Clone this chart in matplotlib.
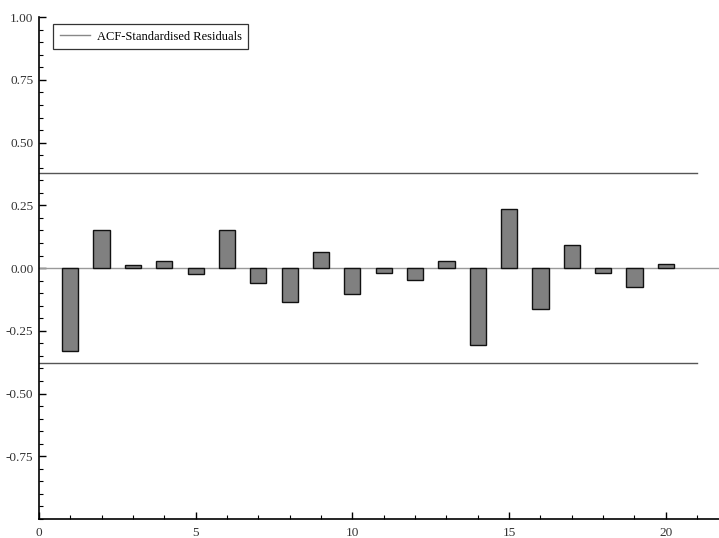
import numpy as np
import matplotlib
matplotlib.use('Agg')
import matplotlib.pyplot as plt
from matplotlib.ticker import MultipleLocator, FormatStrFormatter

# ACF of standardised residuals, lags 1..20
lags = list(range(1, 21))
acf = [-0.329, 0.151, 0.012, 0.030, -0.024, 0.151, -0.058, -0.134, 0.065, -0.105,
       -0.019, -0.046, 0.030, -0.307, 0.236, -0.163, 0.093, -0.019, -0.076, 0.017]
conf_band = 0.38
band_end = 21

plt.rcParams['font.family'] = ['Liberation Serif', 'DejaVu Serif']

fig = plt.figure(figsize=(7.19, 5.38), dpi=100)
ax = fig.add_axes([0.0542, 0.0353, 0.9458, 0.9327])

ax.bar(lags, acf, width=0.52, color='#808080', edgecolor='#111111', linewidth=1.0, zorder=3)
ax.axhline(0, color='#999999', linewidth=1.0, zorder=2)
ax.plot([0, band_end], [conf_band, conf_band], color='#555555', linewidth=1.0)
ax.plot([0, band_end], [-conf_band, -conf_band], color='#555555', linewidth=1.0)

# legend entry
ax.plot([], [], color='#888888', linewidth=1.0, label='ACF-Standardised Residuals')
leg = ax.legend(loc='upper left', bbox_to_anchor=(0.012, 0.998), fontsize=9,
                frameon=True, fancybox=False, edgecolor='black', handlelength=2.4,
                borderpad=0.5, handletextpad=0.6)
leg.get_frame().set_linewidth(0.9)

ax.set_xlim(0, 21.7)
ax.set_ylim(-1.0, 1.0)

for s in ['top', 'right']:
    ax.spines[s].set_visible(False)
for s in ['left', 'bottom']:
    ax.spines[s].set_linewidth(1.2)

ax.xaxis.set_major_locator(MultipleLocator(5))
ax.xaxis.set_minor_locator(MultipleLocator(1))
ax.yaxis.set_major_locator(MultipleLocator(0.25))
ax.yaxis.set_minor_locator(MultipleLocator(0.05))
ax.yaxis.set_major_formatter(FormatStrFormatter('%.2f'))
ax.set_yticks([-0.75, -0.5, -0.25, 0, 0.25, 0.5, 0.75, 1.0])

ax.tick_params(which='major', direction='in', length=5, width=1, labelsize=9.5,
               labelcolor='#333333')
ax.tick_params(axis='x', which='major', pad=6)
ax.tick_params(axis='y', which='major', pad=4)
ax.tick_params(which='minor', direction='in', length=3, width=0.8)

fig.savefig('out.png', dpi=100)
